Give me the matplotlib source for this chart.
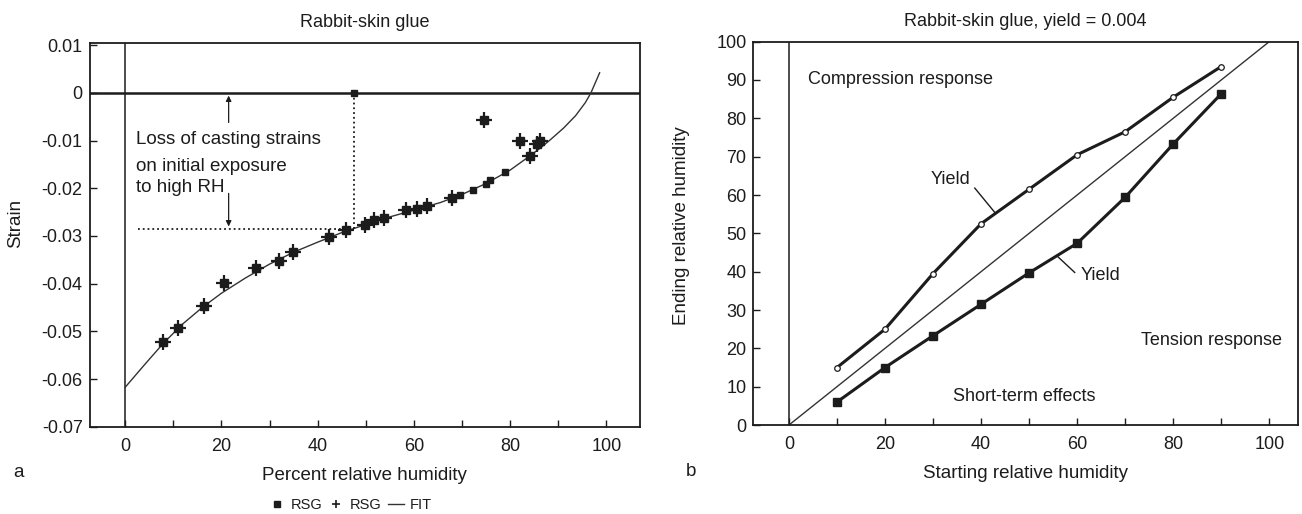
import matplotlib
matplotlib.use("Agg")
import matplotlib.pyplot as plt
from matplotlib.lines import Line2D

plt.rcParams['font.family'] = ['Liberation Sans', 'DejaVu Sans']
plt.rcParams['axes.unicode_minus'] = False

INK = "#1c1c1c"

# panel a: strain vs RH
rsg_sq_rh = [47.6, 69.5, 72.2, 75.0, 75.9, 79.0]
rsg_sq_strain = [0.0, -0.0214, -0.0203, -0.0191, -0.0183, -0.0167]

rsg_plus_rh = [7.8, 10.9, 16.4, 20.6, 27.2, 31.9, 34.9, 42.4, 45.9, 49.9, 51.8,
               53.8, 58.4, 60.6, 62.8, 67.9, 74.5, 82.1, 84.1, 85.6, 86.3]
rsg_plus_strain = [-0.0522, -0.0492, -0.0447, -0.0399, -0.0367, -0.0352, -0.0333,
                   -0.0302, -0.0288, -0.0276, -0.0267, -0.0262, -0.0246, -0.0243,
                   -0.0238, -0.0221, -0.0057, -0.0100, -0.0132, -0.0107, -0.0100]

fit_rh = [0, 4, 8, 12, 16, 20, 25, 30, 35, 40, 45, 50, 55, 60, 65.5, 70, 75, 80,
          84, 86.5, 88.4, 91.1, 93.6, 95.6, 96.8, 98.6]
fit_strain = [-0.0617, -0.0570, -0.0524, -0.0484, -0.0450, -0.0420, -0.0388,
              -0.0359, -0.0334, -0.0313, -0.0293, -0.0276, -0.0260, -0.0246,
              -0.0230, -0.0213, -0.0190, -0.0162, -0.0133, -0.0114, -0.0098,
              -0.0074, -0.0048, -0.0021, 0.0, 0.0042]

loss_rh = 47.6
loss_strain = -0.0286

# panel b: starting vs ending RH
start_rh = [10, 20, 30, 40, 50, 60, 70, 80, 90]
end_compression = [15, 25, 39.5, 52.5, 61.5, 70.5, 76.5, 85.5, 93.5]
end_tension = [6, 15, 23.3, 31.5, 39.7, 47.4, 59.4, 73.3, 86.4]

strain_ticks = [0.01, 0.0, -0.01, -0.02, -0.03, -0.04, -0.05, -0.06, -0.07]
strain_labels = ["0.01", "0", "-0.01", "-0.02", "-0.03", "-0.04", "-0.05", "-0.06", "-0.07"]

fig = plt.figure(figsize=(13.02, 5.14), dpi=100)
ax1 = fig.add_axes([0.0688, 0.1695, 0.4228, 0.7475])
ax2 = fig.add_axes([0.5786, 0.173, 0.4184, 0.746])

for ax in (ax1, ax2):
    for s in ax.spines.values():
        s.set_color(INK)
        s.set_linewidth(1.3)
    ax.tick_params(direction='in', length=5, width=1, colors=INK, labelsize=13)
    ax.tick_params(axis='x', pad=8)
    ax.tick_params(axis='y', pad=5)
    ax.set_xticks([0, 20, 40, 60, 80, 100])
    ax.set_xticks([10, 30, 50, 70, 90], minor=True)
    ax.tick_params(which='minor', direction='in', length=5, width=1, colors=INK)

# ---- panel a ----
ax1.set_xlim(-7.4, 107)
ax1.set_ylim(-0.07, 0.0105)
ax1.set_yticks(strain_ticks)
ax1.set_yticklabels(strain_labels)
ax1.axhline(0, color=INK, lw=1.8, zorder=1)
ax1.axvline(0, color=INK, lw=1.1, zorder=1)

ax1.plot(fit_rh, fit_strain, color="#333333", lw=1.0, zorder=2)
ax1.plot(rsg_sq_rh, rsg_sq_strain, 's', color=INK, ms=5, zorder=3)
ax1.plot(rsg_plus_rh, rsg_plus_strain, 's', color=INK, ms=5.5, zorder=3)
ax1.plot(rsg_plus_rh, rsg_plus_strain, '+', color=INK, ms=11, mew=1.6, zorder=3)

ax1.plot([loss_rh, loss_rh], [0, loss_strain], ':', color=INK, lw=1.3)
ax1.plot([2.6, loss_rh], [loss_strain, loss_strain], ':', color=INK, lw=1.3)
ax1.annotate("", xy=(21.5, 0), xytext=(21.5, -0.0068),
             arrowprops=dict(arrowstyle='-|>', color=INK, lw=0.9, mutation_scale=8))
ax1.annotate("", xy=(21.5, loss_strain), xytext=(21.5, -0.0205),
             arrowprops=dict(arrowstyle='-|>', color=INK, lw=0.9, mutation_scale=8))
ax1.text(2.2, -0.0097, "Loss of casting strains", fontsize=13.5, color=INK, va='center')
ax1.text(2.2, -0.0154, "on initial exposure", fontsize=13.5, color=INK, va='center')
ax1.text(2.2, -0.0199, "to high RH", fontsize=13.5, color=INK, va='center')

ax1.set_title("Rabbit-skin glue", fontsize=13, color=INK, pad=11)
ax1.set_xlabel("Percent relative humidity", fontsize=13.5, color=INK)
ax1.xaxis.set_label_coords(0.5, -0.105)
ax1.set_ylabel("Strain", fontsize=13.5, color=INK)
ax1.yaxis.set_label_coords(-0.119, 0.53)

# ---- panel b ----
ax2.set_xlim(-7.4, 106)
ax2.set_ylim(0, 100)
ax2.set_yticks(range(0, 101, 10))
ax2.axvline(0, color=INK, lw=1.1, zorder=1)
ax2.plot([0, 100], [0, 100], color="#333333", lw=1.0, zorder=2)
ax2.plot(start_rh, end_compression, '-o', color=INK, lw=2.2, ms=4,
         mfc='white', mec=INK, mew=0.9, zorder=3)
ax2.plot(start_rh, end_tension, '-s', color=INK, lw=2.2, ms=6, zorder=3)

ax2.text(4, 90, "Compression response", fontsize=13, color=INK, va='center')
ax2.text(73.4, 22, "Tension response", fontsize=13, color=INK, va='center')
ax2.text(34.2, 7.4, "Short-term effects", fontsize=13, color=INK, va='center')
ax2.text(29.6, 64, "Yield", fontsize=13, color=INK, va='center')
ax2.plot([38.7, 42.9], [61.8, 55.4], color=INK, lw=1.0)
ax2.text(60.8, 39.1, "Yield", fontsize=13, color=INK, va='center')
ax2.plot([59.5, 56], [39.8, 43.9], color=INK, lw=1.0)

ax2.set_title("Rabbit-skin glue, yield = 0.004", fontsize=13, color=INK, pad=11)
ax2.set_xlabel("Starting relative humidity", fontsize=13.5, color=INK)
ax2.xaxis.set_label_coords(0.5, -0.105)
ax2.set_ylabel("Ending relative humidity", fontsize=13.5, color=INK)
ax2.yaxis.set_label_coords(-0.116, 0.52)

fig.text(0.0105, 0.08, "a", fontsize=13.5, color=INK, va='center')
fig.text(0.5265, 0.082, "b", fontsize=13.5, color=INK, va='center')

handles = [Line2D([], [], marker='s', ls='none', color=INK, ms=5),
           Line2D([], [], marker='+', ls='none', color=INK, ms=6, mew=1.2),
           Line2D([], [], color="#333333", lw=1.0)]
fig.legend(handles, ["RSG", "RSG", "FIT"], loc='center', ncol=3,
           bbox_to_anchor=(0.269, 0.018), frameon=False, fontsize=10.5,
           handlelength=1.1, handletextpad=0.4, columnspacing=0.4, labelcolor=INK)

fig.savefig("out.png", dpi=100, facecolor='white')
